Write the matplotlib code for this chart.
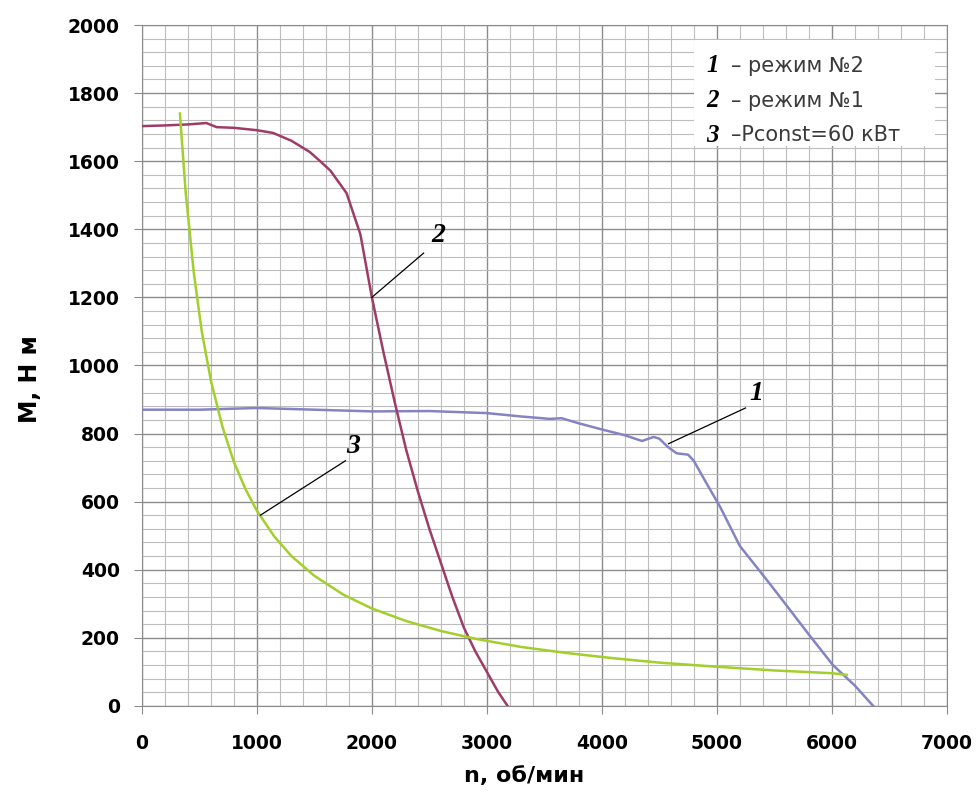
import matplotlib.pyplot as plt
from matplotlib.ticker import MultipleLocator

# curve 1 - режим №2
n1 = [0, 500, 1000, 1500, 2000, 2500, 3000, 3300, 3550, 3650, 3800, 4000, 4200,
      4350, 4450, 4500, 4570, 4650, 4750, 4800, 4900, 5030, 5200, 5400, 5550,
      5800, 6010, 6200, 6360]
m1 = [870, 870, 875, 870, 865, 866, 860, 850, 843, 845, 830, 812, 795,
      778, 790, 785, 762, 742, 738, 720, 660, 584, 470, 385, 320,
      210, 120, 60, 0]

# curve 2 - режим №1
n2 = [0, 200, 400, 560, 650, 800, 1000, 1140, 1300, 1460, 1550, 1640, 1780,
      1900, 2000, 2100, 2200, 2300, 2400, 2500, 2600, 2700, 2800, 2900, 3000,
      3100, 3180]
m2 = [1703, 1705, 1708, 1712, 1700, 1698, 1691, 1683, 1660, 1627, 1600, 1572, 1506,
      1385, 1200, 1040, 890, 750, 630, 520, 420, 320, 230, 160, 100,
      40, 0]

# curve 3 - Pconst=60 кВт
n3 = [330, 380, 450, 520, 600, 700, 800, 900, 1000, 1150, 1300, 1500, 1750,
      2000, 2300, 2600, 2900, 3300, 3700, 4100, 4500, 5000, 5500, 6000, 6130]
m3 = [1740, 1510, 1275, 1100, 955, 820, 716, 637, 573, 498, 440, 382, 327,
      286, 249, 220, 197, 173, 155, 140, 127, 115, 104, 96, 91]

legend_nums = ['1', '2', '3']
legend_txt = ['– режим №2', '– режим №1', '–Pconst=60 кВт']

plt.rcParams['font.family'] = ['DejaVu Sans']

fig = plt.figure(figsize=(9.79, 7.94), dpi=100)
ax = fig.add_axes([0.145, 0.111, 0.822, 0.8575])

ax.plot(n1, m1, color='#8484C4', lw=1.8, zorder=3)
ax.plot(n2, m2, color='#9E3B66', lw=1.8, zorder=3)
ax.plot(n3, m3, color='#A2CF2A', lw=1.8, zorder=3)

ax.set_xlim(0, 7000)
ax.set_ylim(0, 2000)
ax.xaxis.set_major_locator(MultipleLocator(1000))
ax.xaxis.set_minor_locator(MultipleLocator(200))
ax.yaxis.set_major_locator(MultipleLocator(200))
ax.yaxis.set_minor_locator(MultipleLocator(40))
ax.grid(which='major', color='#8c8c8c', lw=1.0)
ax.grid(which='minor', color='#bdbdbd', lw=0.8)
ax.set_axisbelow(True)
for s in ax.spines.values():
    s.set_color('#8c8c8c')
ax.tick_params(which='major', length=6, color='#8c8c8c', labelsize=13.5)
ax.tick_params(which='minor', length=0)
ax.tick_params(axis='x', pad=14)
ax.tick_params(axis='y', pad=10)
for lab in ax.get_xticklabels() + ax.get_yticklabels():
    lab.set_fontweight('bold')

ax.set_xlabel('n, об/мин', fontsize=16, fontweight='bold')
ax.set_ylabel('M, Н м', fontsize=17, fontweight='bold')
ax.xaxis.set_label_coords(0.4745, -0.088)
ax.yaxis.set_label_coords(-0.124, 0.48)

# leader lines with italic numbers
lab_font = dict(family='Liberation Serif', style='italic', fontweight='bold', fontsize=20)
ax.plot([4580, 5250], [770, 875], color='black', lw=0.9, zorder=4)
ax.text(5280, 880, '1', ha='left', va='bottom', **lab_font)
ax.plot([2000, 2450], [1200, 1330], color='black', lw=0.9, zorder=4)
ax.text(2520, 1345, '2', ha='left', va='bottom', **lab_font)
ax.plot([1030, 1770], [560, 720], color='black', lw=0.9, zorder=4)
ax.text(1780, 725, '3', ha='left', va='bottom', **lab_font)

# legend box
ax.add_patch(plt.Rectangle((4800, 1645), 2100, 310, facecolor='white',
                           edgecolor='none', zorder=5))
leg_font = dict(lab_font, fontsize=18)
for i, (num, txt) in enumerate(zip(legend_nums, legend_txt)):
    y = 1880 - i * 102
    ax.text(4910, y, num, ha='left', va='center', zorder=6, **leg_font)
    ax.text(5120, y, txt, ha='left', va='center',
            fontsize=15, color='#3a3a3a', zorder=6)

fig.savefig('out.png', dpi=100)
